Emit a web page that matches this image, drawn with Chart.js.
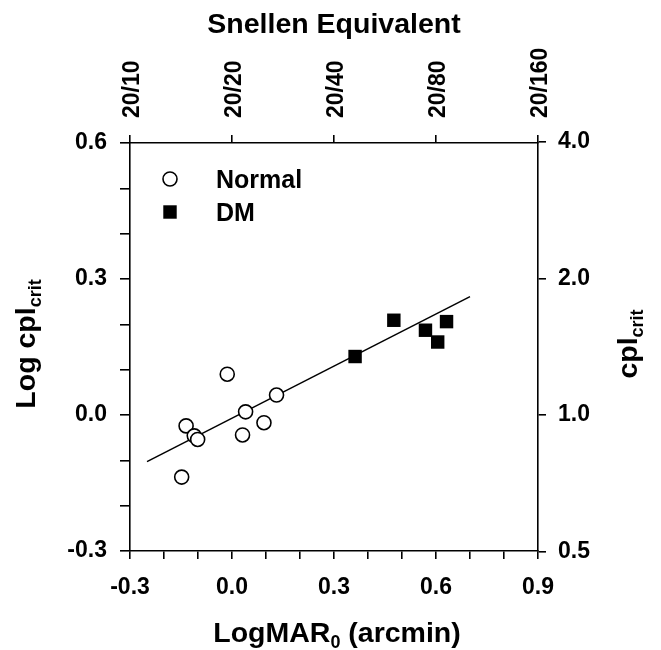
<!DOCTYPE html>
<html><head><meta charset="utf-8">
<script src="https://cdn.jsdelivr.net/npm/chart.js@4.4.1/dist/chart.umd.min.js"></script>
<style>html,body{margin:0;padding:0;background:#fff}</style>
</head><body>
<canvas id="c" width="661" height="650" style="width:661px;height:650px;display:block"></canvas>
<script>
// ---- data ----
const normalLabel = 'Normal';
const dmLabel = 'DM';
const normalX = [-0.148, -0.135, -0.111, -0.101, -0.014, 0.031, 0.040, 0.094, 0.131];
const normalY = [-0.137, -0.024, -0.046, -0.054, 0.090, -0.044, 0.007, -0.017, 0.044];
const dmX = [0.362, 0.476, 0.569, 0.605, 0.631];
const dmY = [0.129, 0.209, 0.187, 0.161, 0.206];
const fitX = [-0.25, 0.70];
const fitY = [-0.103, 0.261];

const xTickValues = [-0.3, -0.2, -0.1, 0.0, 0.1, 0.2, 0.3, 0.4, 0.5, 0.6, 0.7, 0.8, 0.9];
const xTickLabels = ['-0.3', '', '', '0.0', '', '', '0.3', '', '', '0.6', '', '', '0.9'];
const yTickValues = [-0.3, -0.2, -0.1, 0.0, 0.1, 0.2, 0.3, 0.4, 0.5, 0.6];
const yTickLabels = ['-0.3', '', '', '0.0', '', '', '0.3', '', '', '0.6'];
const snellenValues = [-0.3, 0.0, 0.3, 0.6, 0.9];
const snellenLabels = ['20/10', '20/20', '20/40', '20/80', '20/160'];
const cplValues = [0.5, 1.0, 2.0, 4.0];
const cplLabels = ['0.5', '1.0', '2.0', '4.0'];

const xTitle = [['LogMAR', 0], ['0', 1], [' (arcmin)', 0]];
const topTitle = [['Snellen Equivalent', 0]];
const yTitle = [['Log cpl', 0], ['crit', 1]];
const y2Title = [['cpl', 0], ['crit', 1]];

// ---- style ----
const FAMILY = "'Liberation Sans', Arial, Helvetica, sans-serif";
Chart.defaults.font.family = FAMILY;
Chart.defaults.font.weight = 'bold';
Chart.defaults.color = '#000';

const TICK_SIZE = 23;
const TICK_FONT = {family: FAMILY, size: TICK_SIZE, weight: 'bold'};
const TITLE_SIZE = 28.5, SUB_SIZE = 18, SUB_DY = 6;
const LEGEND_SIZE = 25;
const AXIS_W = 1.6;

function axisBase(pos, tickLen, pad) {
  return {
    position: pos,
    grid: {drawOnChartArea: false, drawTicks: true, tickLength: tickLen, color: '#000', tickWidth: AXIS_W, lineWidth: AXIS_W},
    border: {display: true, color: '#000', width: AXIS_W},
    ticks: {font: TICK_FONT, color: '#000', padding: pad, autoSkip: false, maxRotation: 0, minRotation: 0},
    title: {display: false}
  };
}

function setTicks(values) {
  return function (scale) { scale.ticks = values.map(v => ({value: v})); };
}

const x = Object.assign(axisBase('bottom', 8, 15), {type: 'linear', min: -0.3, max: 0.9,
  afterBuildTicks: setTicks(xTickValues), afterFit: s => { s.height = 99; }});
x.ticks.callback = (v, i) => xTickLabels[i];

const x2 = Object.assign(axisBase('top', 8, 17), {type: 'linear', min: -0.3, max: 0.9,
  afterBuildTicks: setTicks(snellenValues), afterFit: s => { s.height = 143; }});
x2.ticks.callback = (v, i) => snellenLabels[i];
x2.ticks.maxRotation = 90; x2.ticks.minRotation = 90;
x2.ticks.labelOffset = TICK_SIZE * 1.2 + 3;

const y = Object.assign(axisBase('left', 10, 13), {type: 'linear', min: -0.3, max: 0.6,
  afterBuildTicks: setTicks(yTickValues), afterFit: s => { s.width = 130; }});
y.ticks.callback = (v, i) => yTickLabels[i];

const y2 = Object.assign(axisBase('right', 8, 12), {type: 'linear', min: -0.3, max: 0.6,
  afterBuildTicks: setTicks(cplValues.map(v => Math.log10(v))), afterFit: s => { s.width = 123; }});
y2.ticks.callback = (v, i) => cplLabels[i];

function drawRich(ctx, parts, px, py, rot) {
  ctx.save();
  ctx.translate(px, py);
  ctx.rotate(rot);
  const ws = [];
  let total = 0;
  parts.forEach(p => {
    ctx.font = 'bold ' + (p[1] ? SUB_SIZE : TITLE_SIZE) + 'px ' + FAMILY;
    const w = ctx.measureText(p[0]).width; ws.push(w); total += w;
  });
  let cx = -total / 2;
  ctx.textAlign = 'left'; ctx.textBaseline = 'alphabetic'; ctx.fillStyle = '#000';
  parts.forEach((p, i) => {
    ctx.font = 'bold ' + (p[1] ? SUB_SIZE : TITLE_SIZE) + 'px ' + FAMILY;
    ctx.fillText(p[0], cx, p[1] ? SUB_DY : 0);
    cx += ws[i];
  });
  ctx.restore();
}

function drawMarker(ctx, ds, cx, cy) {
  ctx.save();
  ctx.lineWidth = ds.pointBorderWidth;
  ctx.strokeStyle = ds.pointBorderColor;
  ctx.fillStyle = ds.pointBackgroundColor;
  const r = ds.pointRadius;
  ctx.beginPath();
  if (ds.pointStyle === 'rect') {
    const s = r * Math.SQRT1_2;
    ctx.rect(cx - s, cy - s, 2 * s, 2 * s);
  } else {
    ctx.arc(cx, cy, r, 0, Math.PI * 2);
  }
  ctx.fill();
  if (ds.pointBorderWidth > 0) ctx.stroke();
  ctx.restore();
}

const decorPlugin = {
  id: 'decor',
  afterDraw(chart) {
    const ctx = chart.ctx;
    const a = chart.chartArea;
    const cxm = (a.left + a.right) / 2, cym = (a.top + a.bottom) / 2;
    drawRich(ctx, topTitle, cxm, 33, 0);
    drawRich(ctx, xTitle, cxm + 3, 642, 0);
    drawRich(ctx, yTitle, 35, cym - 3, -Math.PI / 2);
    drawRich(ctx, y2Title, 637, cym - 3, -Math.PI / 2);
    // legend
    const items = chart.data.datasets.filter(d => d.inLegend);
    items.forEach((ds, i) => {
      const my = a.top + 36 + i * 33;
      drawMarker(ctx, ds, a.left + 40, my);
      ctx.save();
      ctx.font = 'bold ' + LEGEND_SIZE + 'px ' + FAMILY;
      ctx.fillStyle = '#000'; ctx.textAlign = 'left'; ctx.textBaseline = 'alphabetic';
      ctx.fillText(ds.label, a.left + 86, my + LEGEND_SIZE * 0.716 / 2);
      ctx.restore();
    });
  }
};

const toPts = (xs, ys) => xs.map((v, i) => ({x: v, y: ys[i]}));

new Chart(document.getElementById('c'), {
  type: 'scatter',
  data: {
    datasets: [
      {label: normalLabel, inLegend: true, data: toPts(normalX, normalY), pointStyle: 'circle', pointRadius: 7,
       pointBorderWidth: 1.6, pointBorderColor: '#000', pointBackgroundColor: '#fff', showLine: false},
      {label: dmLabel, inLegend: true, data: toPts(dmX, dmY), pointStyle: 'rect', pointRadius: 9.5,
       pointBorderWidth: 0, pointBorderColor: '#000', pointBackgroundColor: '#000', showLine: false},
      {label: 'fit', type: 'line', data: toPts(fitX, fitY), borderColor: '#000', borderWidth: 1.5,
       pointRadius: 0, fill: false, tension: 0}
    ]
  },
  options: {
    responsive: false,
    animation: false,
    layout: {padding: 0},
    plugins: {legend: {display: false}, tooltip: {enabled: false}, title: {display: false}},
    scales: {x: x, x2: x2, y: y, y2: y2}
  },
  plugins: [decorPlugin]
});
</script>
</body></html>
